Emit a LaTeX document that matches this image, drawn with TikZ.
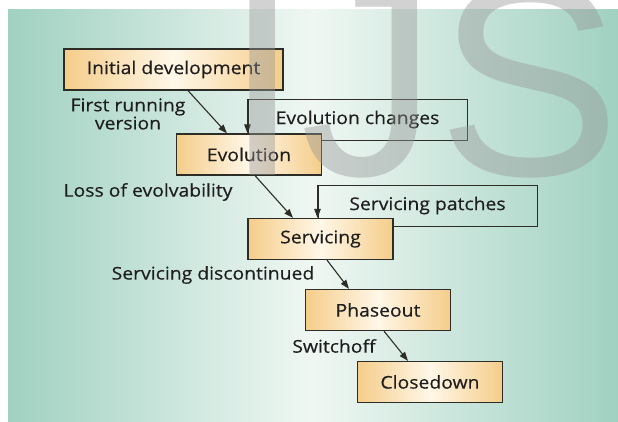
\documentclass[tikz,border=0pt]{standalone}
\usepackage{fontspec}
\setmainfont{Open Sans}[FakeStretch=1.1, FakeBold=0.4]
\newfontfamily\markfont{Liberation Sans}
\usetikzlibrary{arrows.meta}

\definecolor{bgside}{RGB}{160,209,193}
\definecolor{bgmid}{RGB}{240,247,243}
\definecolor{boxor}{RGB}{245,205,138}
\definecolor{boxlt}{RGB}{255,247,232}
\definecolor{boxline}{RGB}{45,45,40}
\definecolor{inkcol}{RGB}{30,30,30}
\definecolor{markgray}{RGB}{150,150,150}

\begin{document}
\begin{tikzpicture}[x=1pt,y=-1pt,
    every node/.style={text=inkcol, font=\fontsize{17.6}{17}\selectfont},
    stage/.style={draw=boxline, line width=1.2pt, left color=boxor, right color=boxor, middle color=boxlt,
                  minimum width=145pt, minimum height=41pt, inner sep=0pt},
    loopbox/.style={draw=boxline, line width=1pt, minimum width=219pt, minimum height=41pt, inner sep=0pt},
    lbl/.style={inner sep=0pt, align=center},
    flow/.style={draw=boxline, line width=1.1pt, -{Triangle[length=9pt,width=6.5pt]}}]
    \useasboundingbox (0,0) rectangle (618,421);
    \fill[white] (0,0) rectangle (618,421);
    \fill[left color=bgside, right color=bgside, middle color=bgmid] (8,9) rectangle (618,421);

    % feedback boxes first, the stages cover their corners
    \node[loopbox] (evchg) at (357.5,119.5) {Evolution changes};
    \node[loopbox] (servpatch) at (427.5,205.5) {Servicing patches};

    % stages
    \node[stage, minimum width=219pt] (init) at (173.5,69.5) {Initial development};
    \node[stage] (evol) at (249,154.5) {Evolution};
    \node[stage] (serv) at (320.5,239) {Servicing};
    \node[stage] (phase) at (378,310) {Phaseout};
    \node[stage] (close) at (430,382) {Closedown};

    % transitions
    \draw[flow] ([xshift=14.5pt]init.south) -- ([xshift=-22pt]evol.north);
    \draw[flow] ([xshift=6pt]evol.south) -- ([xshift=-27.5pt]serv.north);
    \draw[flow] ([xshift=6.5pt]serv.south) -- ([xshift=-29pt]phase.north);
    \draw[flow] ([xshift=6pt]phase.south) -- ([xshift=-22pt]close.north);
    \draw[flow] (evchg.north west) -- (evchg.north west |- evol.north);
    \draw[flow] (servpatch.north west) -- (servpatch.north west |- serv.north);

    \node[lbl] (firstrun) at (128,114) {First running\\version};
    \node[lbl] (lossevol) at (148,192) {Loss of evolvability};
    \node[lbl] (servdisc) at (213,275) {Servicing discontinued};
    \node[lbl] (switchoff) at (334,346) {Switchoff};

    % watermark
    \begin{scope}
        \clip (0,0) rectangle (618,421);
        \node[anchor=base west, inner sep=0pt, outer sep=0pt, text=markgray, opacity=0.42,
              font=\markfont\fontsize{275}{275}\selectfont] (mark) at (224,175) {IJS};
    \end{scope}
\end{tikzpicture}
\end{document}
